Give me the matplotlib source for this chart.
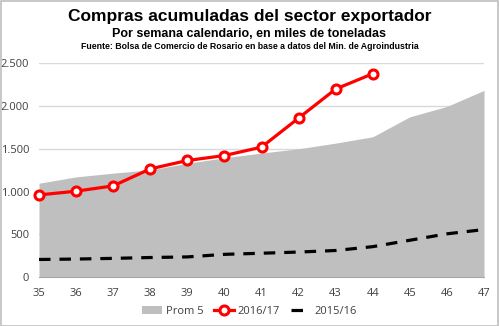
import matplotlib
matplotlib.use("Agg")
import matplotlib.pyplot as plt
from matplotlib.patches import Rectangle
from matplotlib.lines import Line2D
from matplotlib.patches import Patch

weeks = [35, 36, 37, 38, 39, 40, 41, 42, 43, 44, 45, 46, 47]
prom5 = [1097, 1171, 1215, 1253, 1330, 1395, 1450, 1500, 1566, 1640, 1874, 1995, 2183]
weeks_1617 = [35, 36, 37, 38, 39, 40, 41, 42, 43, 44]
camp_1617 = [960, 1004, 1066, 1265, 1363, 1421, 1519, 1859, 2199, 2378]
camp_1516 = [205, 210, 218, 228, 235, 265, 278, 292, 310, 355, 430, 505, 555]
yticks = [0, 500, 1000, 1500, 2000, 2500]
ytick_labels = ["0", "500", "1.000", "1.500", "2.000", "2.500"]

title = "Compras acumuladas del sector exportador"
subtitle = "Por semana calendario, en miles de toneladas"
source = "Fuente: Bolsa de Comercio de Rosario en base a datos del Min. de Agroindustria"

W, H = 499, 326
fig = plt.figure(figsize=(W / 100, H / 100), dpi=100)
fig.patch.set_facecolor("white")
fig.add_artist(Rectangle((0.5 / W, 0.5 / H), 1 - 1.5 / W, 1 - 1.5 / H,
                         transform=fig.transFigure, fill=False,
                         edgecolor="#bfbfbf", linewidth=1.2))

left, right = 39 / W, 484 / W
bottom, top = 1 - 277 / H, 1 - 63.3 / H
ax = fig.add_axes([left, bottom, right - left, top - bottom])
ax.set_xlim(35, 47)
ax.set_ylim(0, 2500)

ax.fill_between(weeks, prom5, 0, color="#bfbfbf", linewidth=0, zorder=2)
ax.plot(weeks, camp_1516, color="black", linewidth=2.3,
        dashes=(3.6, 2.8), zorder=3)
ax.plot(weeks_1617, camp_1617, color="#ff0000", linewidth=2.3, marker="o",
        markersize=6.5, markerfacecolor="white", markeredgecolor="#ff0000",
        markeredgewidth=2.2, zorder=4, clip_on=False)

ax.set_yticks(yticks)
ax.set_yticklabels(ytick_labels)
ax.set_xticks(weeks)
ax.set_xticklabels([str(w) for w in weeks])
ax.grid(axis="y", color="#d9d9d9", linewidth=1, zorder=0)
ax.set_axisbelow(True)
for s in ["left", "right", "top"]:
    ax.spines[s].set_visible(False)
ax.spines["bottom"].set_color("#a6a6a6")
ax.spines["bottom"].set_zorder(5)
ax.tick_params(axis="both", length=0, labelsize=8, labelcolor="#404040")
ax.tick_params(axis="y", pad=7)
ax.tick_params(axis="x", pad=8)
for lbl in ax.get_xticklabels() + ax.get_yticklabels():
    lbl.set_fontfamily("Open Sans")

fig.text(0.5, 1 - 17 / H, title, ha="center", va="center",
         fontsize=12.5, fontweight="bold", family="Liberation Sans")
fig.text(0.5, 1 - 34 / H, subtitle, ha="center", va="center",
         fontsize=9.0, fontweight="bold", family="Liberation Sans")
fig.text(0.5, 1 - 46.5 / H, source, ha="center", va="center",
         fontsize=6.3, fontweight="bold", family="Liberation Sans")

handles = [
    Patch(facecolor="#bfbfbf", edgecolor="none", label="Prom 5"),
    Line2D([], [], color="#ff0000", linewidth=2.3, marker="o", markersize=6.5,
           markerfacecolor="white", markeredgecolor="#ff0000",
           markeredgewidth=2.2, label="2016/17"),
    Line2D([], [], color="black", linewidth=2.3, dashes=(3.6, 2.8), label="2015/16"),
]
fig.legend(handles=handles, loc="center", bbox_to_anchor=(0.5, 1 - 311.5 / H),
           ncol=3, frameon=False, prop={"family": "Open Sans", "size": 8},
           handlelength=1.8, handletextpad=0.3, columnspacing=1.0,
           labelcolor="#404040")

fig.savefig("out.png", dpi=100)
